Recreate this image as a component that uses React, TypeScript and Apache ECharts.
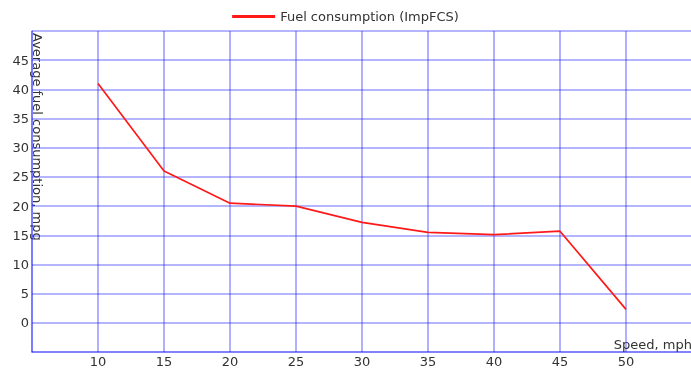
import React, { useEffect, useRef } from "react";
import * as echarts from "echarts";

const speeds = [10, 15, 20, 25, 30, 35, 40, 45, 50];
const fuel = [41.0, 26.0, 20.5, 20.0, 17.2, 15.5, 15.1, 15.7, 2.3];
const seriesName = "Fuel consumption (ImpFCS)";
const xName = "Speed, mph";
const yName = "Average fuel consumption, mpg";

export default function App() {
  const ref = useRef<HTMLDivElement>(null);
  useEffect(() => {
    if (!ref.current) return;
    const chart = echarts.init(ref.current, null, { renderer: "svg" });
    const font = "DejaVu Sans";
    const gridColor = "rgba(20,20,255,0.42)";
    chart.setOption({
      animation: false,
      textStyle: { fontFamily: font },
      legend: {
        top: 5,
        left: "center",
        itemWidth: 43,
        itemHeight: 3,
        itemGap: 10,
        textStyle: { fontFamily: font, fontSize: 13, color: "#333", padding: [0, 0, 0, 0] },
        data: [{ name: seriesName, icon: "rect", itemStyle: { color: "#ff1a1a" } }],
      },
      grid: {
        left: 32,
        top: 31,
        right: -1,
        bottom: 17,
        containLabel: false,
        outerBoundsMode: "none",
      },
      xAxis: {
        type: "value",
        min: 5,
        max: 55,
        interval: 5,
        axisLine: { show: true, onZero: false, lineStyle: { color: gridColor, width: 1.6 } },
        axisTick: { show: false },
        splitLine: { show: true, lineStyle: { color: gridColor, width: 1.6 } },
        axisLabel: {
          fontFamily: font,
          fontSize: 13,
          color: "#333",
          margin: 3,
          formatter: (v: number) => (v === 5 || v === 55 ? "" : String(v)),
        },
      },
      yAxis: {
        type: "value",
        min: -5,
        max: 50,
        interval: 5,
        axisLine: { show: true, onZero: false, lineStyle: { color: gridColor, width: 1.6 } },
        axisTick: { show: false },
        splitLine: { show: true, lineStyle: { color: gridColor, width: 1.6 } },
        axisLabel: {
          fontFamily: font,
          fontSize: 13,
          color: "#333",
          margin: 3,
          formatter: (v: number) => (v === -5 || v === 50 ? "" : String(v)),
        },
      },
      graphic: [
        {
          type: "text",
          x: 44,
          y: 33,
          rotation: -Math.PI / 2,
          style: {
            text: yName,
            fontFamily: font,
            fontSize: 13,
            fill: "#333",
            textAlign: "left",
            textVerticalAlign: "top",
          },
        },
        {
          type: "text",
          x: 692,
          y: 344,
          style: {
            text: xName,
            fontFamily: font,
            fontSize: 13,
            fill: "#333",
            textAlign: "right",
            textVerticalAlign: "middle",
          },
        },
      ],
      series: [
        {
          name: seriesName,
          type: "line",
          data: speeds.map((s, i) => [s, fuel[i]]),
          showSymbol: false,
          symbol: "none",
          lineStyle: { color: "#ff1a1a", width: 1.7 },
          itemStyle: { color: "#ff1a1a" },
        },
      ],
    });
    return () => chart.dispose();
  }, []);
  return (
    <div
      ref={ref}
      style={{ position: "fixed", left: 0, top: 0, width: 691, height: 369 }}
    />
  );
}
